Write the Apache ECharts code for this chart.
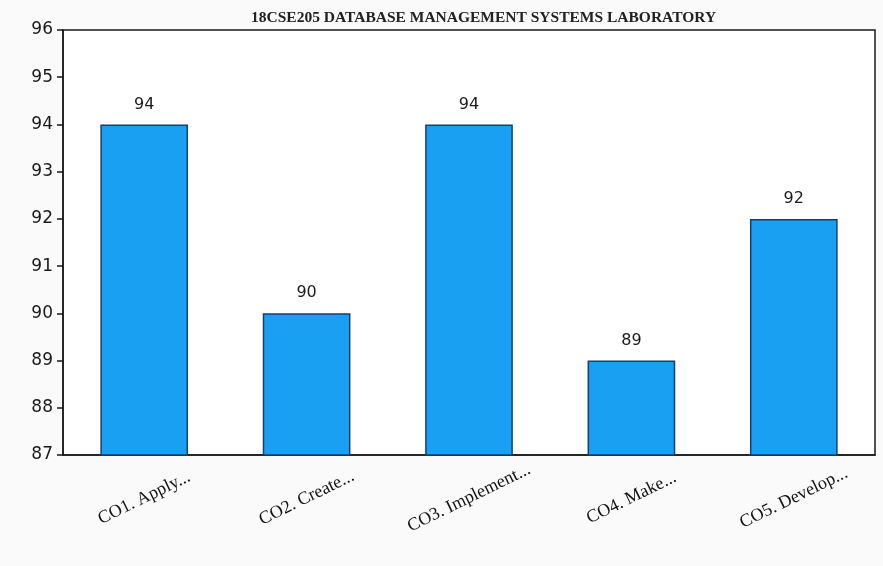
<!DOCTYPE html>
<html>
<head>
<meta charset="utf-8">
<script src="https://cdn.jsdelivr.net/npm/echarts@6/dist/echarts.min.js"></script>
<style>
  html, body { margin: 0; padding: 0; background: #fafafa; }
  #chart { width: 883px; height: 566px; }
</style>
</head>
<body>
<div id="chart"></div>
<script>
const titleText = '18CSE205 DATABASE MANAGEMENT SYSTEMS LABORATORY'
const categories = ['CO1. Apply...', 'CO2. Create...', 'CO3. Implement...', 'CO4. Make...', 'CO5. Develop...']
const values = [94, 90, 94, 89, 92]
const yMin = 87
const yMax = 96

const chart = echarts.init(document.getElementById('chart'))

chart.setOption({
  backgroundColor: '#fafafa',
  animation: false,
  title: {
    text: titleText,
    left: 246,
    top: 5,
    textStyle: { fontFamily: 'Liberation Serif', fontSize: 15.5, fontWeight: 'bold', color: '#222' }
  },
  grid: {
    left: 63, right: 8, top: 30, bottom: 111,
    show: true, borderColor: '#1a1a1a', borderWidth: 1.5, backgroundColor: '#fff'
  },
  xAxis: {
    type: 'category',
    data: categories,
    axisLine: { lineStyle: { color: '#1a1a1a', width: 1.5 } },
    axisTick: { alignWithLabel: true, length: 6, lineStyle: { color: '#1a1a1a', width: 1.5 } },
    axisLabel: {
      rotate: 26, align: 'center', verticalAlign: 'middle', margin: 43,
      fontFamily: 'Liberation Serif', fontSize: 18, color: '#111'
    }
  },
  yAxis: {
    type: 'value',
    min: yMin, max: yMax, interval: 1,
    splitLine: { show: false },
    axisLine: { show: true, lineStyle: { color: '#1a1a1a', width: 1.5 } },
    axisTick: { show: true, length: 6, lineStyle: { color: '#1a1a1a', width: 1.5 } },
    axisLabel: { margin: 10, fontFamily: 'DejaVu Sans', fontSize: 17, color: '#1a1a1a' }
  },
  series: [{
    type: 'bar',
    data: values,
    barWidth: '54%',
    itemStyle: { color: '#1aa0f2', borderColor: '#1b3d6e', borderWidth: 1.5 },
    label: {
      show: true, position: 'top', distance: 12,
      fontFamily: 'DejaVu Sans', fontSize: 16, color: '#1a1a1a'
    }
  }]
})
</script>
</body>
</html>
